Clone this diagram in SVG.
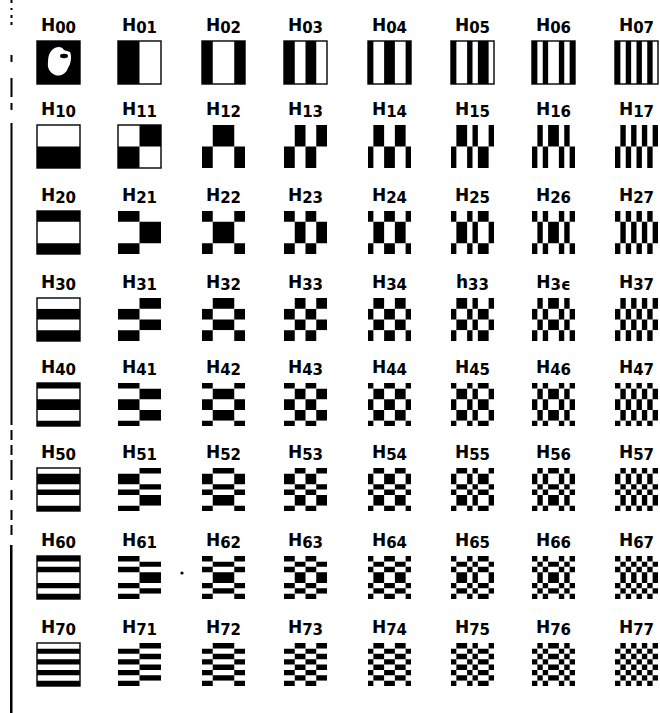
<svg xmlns="http://www.w3.org/2000/svg" xmlns:xlink="http://www.w3.org/1999/xlink" width="660" height="713" viewBox="0 0 660 713">
<style>
.lb{font-family:"DejaVu Sans","Liberation Sans",sans-serif;font-weight:bold;fill:#000;text-anchor:middle}
.h{font-size:17px}
.d{font-size:15px}
.bd{fill:none;stroke:#000;stroke-width:1.4}
.k{fill:#000}
</style>
<defs>
<g id="c0p" class="k"><rect x="0" y="0" width="8" height="8"/></g>
<g id="c1p" class="k"><rect x="0" y="0" width="4" height="8"/></g>
<g id="c1n" class="k"><rect x="4" y="0" width="4" height="8"/></g>
<g id="c2p" class="k"><rect x="0" y="0" width="2" height="8"/><rect x="6" y="0" width="2" height="8"/></g>
<g id="c2n" class="k"><rect x="2" y="0" width="4" height="8"/></g>
<g id="c3p" class="k"><rect x="0" y="0" width="2" height="8"/><rect x="4" y="0" width="2" height="8"/></g>
<g id="c3n" class="k"><rect x="2" y="0" width="2" height="8"/><rect x="6" y="0" width="2" height="8"/></g>
<g id="c4p" class="k"><rect x="0" y="0" width="1" height="8"/><rect x="3" y="0" width="2" height="8"/><rect x="7" y="0" width="1" height="8"/></g>
<g id="c4n" class="k"><rect x="1" y="0" width="2" height="8"/><rect x="5" y="0" width="2" height="8"/></g>
<g id="c5p" class="k"><rect x="0" y="0" width="1" height="8"/><rect x="3" y="0" width="1" height="8"/><rect x="5" y="0" width="2" height="8"/></g>
<g id="c5n" class="k"><rect x="1" y="0" width="2" height="8"/><rect x="4" y="0" width="1" height="8"/><rect x="7" y="0" width="1" height="8"/></g>
<g id="c6p" class="k"><rect x="0" y="0" width="1" height="8"/><rect x="2" y="0" width="1" height="8"/><rect x="5" y="0" width="1" height="8"/><rect x="7" y="0" width="1" height="8"/></g>
<g id="c6n" class="k"><rect x="1" y="0" width="1" height="8"/><rect x="3" y="0" width="2" height="8"/><rect x="6" y="0" width="1" height="8"/></g>
<g id="c7p" class="k"><rect x="0" y="0" width="1" height="8"/><rect x="2" y="0" width="1" height="8"/><rect x="4" y="0" width="1" height="8"/><rect x="6" y="0" width="1" height="8"/></g>
<g id="c7n" class="k"><rect x="1" y="0" width="1" height="8"/><rect x="3" y="0" width="1" height="8"/><rect x="5" y="0" width="1" height="8"/><rect x="7" y="0" width="1" height="8"/></g>
<clipPath id="r0p"><rect x="0" y="0" width="8" height="8"/></clipPath>
<clipPath id="r1p"><rect x="0" y="4" width="8" height="4"/></clipPath>
<clipPath id="r1n"><rect x="0" y="0" width="8" height="4"/></clipPath>
<clipPath id="r2p"><rect x="0" y="0" width="8" height="2"/><rect x="0" y="6" width="8" height="2"/></clipPath>
<clipPath id="r2n"><rect x="0" y="2" width="8" height="4"/></clipPath>
<clipPath id="r3p"><rect x="0" y="2" width="8" height="2"/><rect x="0" y="6" width="8" height="2"/></clipPath>
<clipPath id="r3n"><rect x="0" y="0" width="8" height="2"/><rect x="0" y="4" width="8" height="2"/></clipPath>
<clipPath id="r4p"><rect x="0" y="0" width="8" height="1"/><rect x="0" y="3" width="8" height="2"/><rect x="0" y="7" width="8" height="1"/></clipPath>
<clipPath id="r4n"><rect x="0" y="1" width="8" height="2"/><rect x="0" y="5" width="8" height="2"/></clipPath>
<clipPath id="r5p"><rect x="0" y="1" width="8" height="2"/><rect x="0" y="4" width="8" height="1"/><rect x="0" y="7" width="8" height="1"/></clipPath>
<clipPath id="r5n"><rect x="0" y="0" width="8" height="1"/><rect x="0" y="3" width="8" height="1"/><rect x="0" y="5" width="8" height="2"/></clipPath>
<clipPath id="r6p"><rect x="0" y="0" width="8" height="1"/><rect x="0" y="2" width="8" height="1"/><rect x="0" y="5" width="8" height="1"/><rect x="0" y="7" width="8" height="1"/></clipPath>
<clipPath id="r6n"><rect x="0" y="1" width="8" height="1"/><rect x="0" y="3" width="8" height="2"/><rect x="0" y="6" width="8" height="1"/></clipPath>
<clipPath id="r7p"><rect x="0" y="1" width="8" height="1"/><rect x="0" y="3" width="8" height="1"/><rect x="0" y="5" width="8" height="1"/><rect x="0" y="7" width="8" height="1"/></clipPath>
<clipPath id="r7n"><rect x="0" y="0" width="8" height="1"/><rect x="0" y="2" width="8" height="1"/><rect x="0" y="4" width="8" height="1"/><rect x="0" y="6" width="8" height="1"/></clipPath>
</defs>
<rect x="0" y="0" width="660" height="713" fill="#fff"/>
<g id="margin-line" fill="#000">
<rect x="10.5" y="0" width="2" height="3"/><rect x="10.5" y="8" width="2" height="2"/><rect x="10.5" y="15" width="2" height="3"/><rect x="10.5" y="22" width="2" height="3"/>
<rect x="10.5" y="55" width="2" height="7"/><rect x="10.5" y="78" width="2" height="19"/><rect x="10.5" y="103" width="2" height="7"/>
<rect x="10.5" y="123" width="2" height="302"/>
<rect x="10.5" y="430" width="2" height="10"/><rect x="10.5" y="445" width="2" height="10"/><rect x="10.5" y="460" width="2" height="20"/><rect x="10.5" y="490" width="2" height="10"/><rect x="10.5" y="510" width="2" height="10"/><rect x="10.5" y="525" width="2" height="10"/>
<rect x="10" y="545" width="2.5" height="168"/>
<circle cx="182" cy="573" r="1.6"/>
</g>
<!-- Row 0 -->
<g id="H00" transform="translate(37,41)"><text class="lb" x="21.5" y="-10"><tspan class="h">H</tspan><tspan class="d" dy="2">00</tspan></text><g transform="scale(5.375)"><use href="#c0p" clip-path="url(#r0p)"/></g><path d="M15 9 C19 5,25 5,27 9 L33 11 C35 15,34 23,31 27 C29 33,23 36,18 34 C13 32,10 27,11 21 C11 16,12 12,15 9 Z" fill="#fff"/><ellipse cx="27" cy="15" rx="4" ry="2.2" fill="#000"/><rect class="bd" x="0" y="0" width="43" height="43"/></g>
<g id="H01" transform="translate(118,41)"><text class="lb" x="21.5" y="-10"><tspan class="h">H</tspan><tspan class="d" dy="2">01</tspan></text><g transform="scale(5.375)"><use href="#c1p" clip-path="url(#r0p)"/></g><rect class="bd" x="0" y="0" width="43" height="43"/></g>
<g id="H02" transform="translate(202,41)"><text class="lb" x="21.5" y="-10"><tspan class="h">H</tspan><tspan class="d" dy="2">02</tspan></text><g transform="scale(5.375)"><use href="#c2p" clip-path="url(#r0p)"/></g><rect class="bd" x="0" y="0" width="43" height="43"/></g>
<g id="H03" transform="translate(284,41)"><text class="lb" x="21.5" y="-10"><tspan class="h">H</tspan><tspan class="d" dy="2">03</tspan></text><g transform="scale(5.375)"><use href="#c3p" clip-path="url(#r0p)"/></g><rect class="bd" x="0" y="0" width="43" height="43"/></g>
<g id="H04" transform="translate(368,41)"><text class="lb" x="21.5" y="-10"><tspan class="h">H</tspan><tspan class="d" dy="2">04</tspan></text><g transform="scale(5.375)"><use href="#c4p" clip-path="url(#r0p)"/></g><rect class="bd" x="0" y="0" width="43" height="43"/></g>
<g id="H05" transform="translate(451,41)"><text class="lb" x="21.5" y="-10"><tspan class="h">H</tspan><tspan class="d" dy="2">05</tspan></text><g transform="scale(5.375)"><use href="#c5p" clip-path="url(#r0p)"/></g><rect class="bd" x="0" y="0" width="43" height="43"/></g>
<g id="H06" transform="translate(532,41)"><text class="lb" x="21.5" y="-10"><tspan class="h">H</tspan><tspan class="d" dy="2">06</tspan></text><g transform="scale(5.375)"><use href="#c6p" clip-path="url(#r0p)"/></g><rect class="bd" x="0" y="0" width="43" height="43"/></g>
<g id="H07" transform="translate(615,41)"><text class="lb" x="21.5" y="-10"><tspan class="h">H</tspan><tspan class="d" dy="2">07</tspan></text><g transform="scale(5.375)"><use href="#c7p" clip-path="url(#r0p)"/></g><rect class="bd" x="0" y="0" width="43" height="43"/></g>
<!-- Row 1 -->
<g id="H10" transform="translate(37,125)"><text class="lb" x="21.5" y="-10"><tspan class="h">H</tspan><tspan class="d" dy="2">10</tspan></text><g transform="scale(5.375)"><use href="#c0p" clip-path="url(#r1p)"/></g><rect class="bd" x="0" y="0" width="43" height="43"/></g>
<g id="H11" transform="translate(118,125)"><text class="lb" x="21.5" y="-10"><tspan class="h">H</tspan><tspan class="d" dy="2">11</tspan></text><g transform="scale(5.375)"><use href="#c1p" clip-path="url(#r1p)"/><use href="#c1n" clip-path="url(#r1n)"/></g><rect class="bd" x="0" y="0" width="43" height="43"/></g>
<g id="H12" transform="translate(202,125)"><text class="lb" x="21.5" y="-10"><tspan class="h">H</tspan><tspan class="d" dy="2">12</tspan></text><g transform="scale(5.375)"><use href="#c2p" clip-path="url(#r1p)"/><use href="#c2n" clip-path="url(#r1n)"/></g></g>
<g id="H13" transform="translate(284,125)"><text class="lb" x="21.5" y="-10"><tspan class="h">H</tspan><tspan class="d" dy="2">13</tspan></text><g transform="scale(5.375)"><use href="#c3p" clip-path="url(#r1p)"/><use href="#c3n" clip-path="url(#r1n)"/></g></g>
<g id="H14" transform="translate(368,125)"><text class="lb" x="21.5" y="-10"><tspan class="h">H</tspan><tspan class="d" dy="2">14</tspan></text><g transform="scale(5.375)"><use href="#c4p" clip-path="url(#r1p)"/><use href="#c4n" clip-path="url(#r1n)"/></g></g>
<g id="H15" transform="translate(451,125)"><text class="lb" x="21.5" y="-10"><tspan class="h">H</tspan><tspan class="d" dy="2">15</tspan></text><g transform="scale(5.375)"><use href="#c5p" clip-path="url(#r1p)"/><use href="#c5n" clip-path="url(#r1n)"/></g></g>
<g id="H16" transform="translate(532,125)"><text class="lb" x="21.5" y="-10"><tspan class="h">H</tspan><tspan class="d" dy="2">16</tspan></text><g transform="scale(5.375)"><use href="#c6p" clip-path="url(#r1p)"/><use href="#c6n" clip-path="url(#r1n)"/></g></g>
<g id="H17" transform="translate(615,125)"><text class="lb" x="21.5" y="-10"><tspan class="h">H</tspan><tspan class="d" dy="2">17</tspan></text><g transform="scale(5.375)"><use href="#c7p" clip-path="url(#r1p)"/><use href="#c7n" clip-path="url(#r1n)"/></g></g>
<!-- Row 2 -->
<g id="H20" transform="translate(37,211)"><text class="lb" x="21.5" y="-10"><tspan class="h">H</tspan><tspan class="d" dy="2">20</tspan></text><g transform="scale(5.375)"><use href="#c0p" clip-path="url(#r2p)"/></g><rect class="bd" x="0" y="0" width="43" height="43"/></g>
<g id="H21" transform="translate(118,211)"><text class="lb" x="21.5" y="-10"><tspan class="h">H</tspan><tspan class="d" dy="2">21</tspan></text><g transform="scale(5.375)"><use href="#c1p" clip-path="url(#r2p)"/><use href="#c1n" clip-path="url(#r2n)"/></g></g>
<g id="H22" transform="translate(202,211)"><text class="lb" x="21.5" y="-10"><tspan class="h">H</tspan><tspan class="d" dy="2">22</tspan></text><g transform="scale(5.375)"><use href="#c2p" clip-path="url(#r2p)"/><use href="#c2n" clip-path="url(#r2n)"/></g></g>
<g id="H23" transform="translate(284,211)"><text class="lb" x="21.5" y="-10"><tspan class="h">H</tspan><tspan class="d" dy="2">23</tspan></text><g transform="scale(5.375)"><use href="#c3p" clip-path="url(#r2p)"/><use href="#c3n" clip-path="url(#r2n)"/></g></g>
<g id="H24" transform="translate(368,211)"><text class="lb" x="21.5" y="-10"><tspan class="h">H</tspan><tspan class="d" dy="2">24</tspan></text><g transform="scale(5.375)"><use href="#c4p" clip-path="url(#r2p)"/><use href="#c4n" clip-path="url(#r2n)"/></g></g>
<g id="H25" transform="translate(451,211)"><text class="lb" x="21.5" y="-10"><tspan class="h">H</tspan><tspan class="d" dy="2">25</tspan></text><g transform="scale(5.375)"><use href="#c5p" clip-path="url(#r2p)"/><use href="#c5n" clip-path="url(#r2n)"/></g></g>
<g id="H26" transform="translate(532,211)"><text class="lb" x="21.5" y="-10"><tspan class="h">H</tspan><tspan class="d" dy="2">26</tspan></text><g transform="scale(5.375)"><use href="#c6p" clip-path="url(#r2p)"/><use href="#c6n" clip-path="url(#r2n)"/></g></g>
<g id="H27" transform="translate(615,211)"><text class="lb" x="21.5" y="-10"><tspan class="h">H</tspan><tspan class="d" dy="2">27</tspan></text><g transform="scale(5.375)"><use href="#c7p" clip-path="url(#r2p)"/><use href="#c7n" clip-path="url(#r2n)"/></g></g>
<!-- Row 3 -->
<g id="H30" transform="translate(37,298)"><text class="lb" x="21.5" y="-10"><tspan class="h">H</tspan><tspan class="d" dy="2">30</tspan></text><g transform="scale(5.375)"><use href="#c0p" clip-path="url(#r3p)"/></g><rect class="bd" x="0" y="0" width="43" height="43"/></g>
<g id="H31" transform="translate(118,298)"><text class="lb" x="21.5" y="-10"><tspan class="h">H</tspan><tspan class="d" dy="2">31</tspan></text><g transform="scale(5.375)"><use href="#c1p" clip-path="url(#r3p)"/><use href="#c1n" clip-path="url(#r3n)"/></g></g>
<g id="H32" transform="translate(202,298)"><text class="lb" x="21.5" y="-10"><tspan class="h">H</tspan><tspan class="d" dy="2">32</tspan></text><g transform="scale(5.375)"><use href="#c2p" clip-path="url(#r3p)"/><use href="#c2n" clip-path="url(#r3n)"/></g></g>
<g id="H33" transform="translate(284,298)"><text class="lb" x="21.5" y="-10"><tspan class="h">H</tspan><tspan class="d" dy="2">33</tspan></text><g transform="scale(5.375)"><use href="#c3p" clip-path="url(#r3p)"/><use href="#c3n" clip-path="url(#r3n)"/></g></g>
<g id="H34" transform="translate(368,298)"><text class="lb" x="21.5" y="-10"><tspan class="h">H</tspan><tspan class="d" dy="2">34</tspan></text><g transform="scale(5.375)"><use href="#c4p" clip-path="url(#r3p)"/><use href="#c4n" clip-path="url(#r3n)"/></g></g>
<g id="H35" transform="translate(451,298)"><text class="lb" x="21.5" y="-10"><tspan class="h">h</tspan><tspan class="d" dy="2">33</tspan></text><g transform="scale(5.375)"><use href="#c5p" clip-path="url(#r3p)"/><use href="#c5n" clip-path="url(#r3n)"/></g></g>
<g id="H36" transform="translate(532,298)"><text class="lb" x="21.5" y="-10"><tspan class="h">H</tspan><tspan class="d" dy="2">3ϵ</tspan></text><g transform="scale(5.375)"><use href="#c6p" clip-path="url(#r3p)"/><use href="#c6n" clip-path="url(#r3n)"/></g></g>
<g id="H37" transform="translate(615,298)"><text class="lb" x="21.5" y="-10"><tspan class="h">H</tspan><tspan class="d" dy="2">37</tspan></text><g transform="scale(5.375)"><use href="#c7p" clip-path="url(#r3p)"/><use href="#c7n" clip-path="url(#r3n)"/></g></g>
<!-- Row 4 -->
<g id="H40" transform="translate(37,383)"><text class="lb" x="21.5" y="-10"><tspan class="h">H</tspan><tspan class="d" dy="2">40</tspan></text><g transform="scale(5.375)"><use href="#c0p" clip-path="url(#r4p)"/></g><rect class="bd" x="0" y="0" width="43" height="43"/></g>
<g id="H41" transform="translate(118,383)"><text class="lb" x="21.5" y="-10"><tspan class="h">H</tspan><tspan class="d" dy="2">41</tspan></text><g transform="scale(5.375)"><use href="#c1p" clip-path="url(#r4p)"/><use href="#c1n" clip-path="url(#r4n)"/></g></g>
<g id="H42" transform="translate(202,383)"><text class="lb" x="21.5" y="-10"><tspan class="h">H</tspan><tspan class="d" dy="2">42</tspan></text><g transform="scale(5.375)"><use href="#c2p" clip-path="url(#r4p)"/><use href="#c2n" clip-path="url(#r4n)"/></g></g>
<g id="H43" transform="translate(284,383)"><text class="lb" x="21.5" y="-10"><tspan class="h">H</tspan><tspan class="d" dy="2">43</tspan></text><g transform="scale(5.375)"><use href="#c3p" clip-path="url(#r4p)"/><use href="#c3n" clip-path="url(#r4n)"/></g></g>
<g id="H44" transform="translate(368,383)"><text class="lb" x="21.5" y="-10"><tspan class="h">H</tspan><tspan class="d" dy="2">44</tspan></text><g transform="scale(5.375)"><use href="#c4p" clip-path="url(#r4p)"/><use href="#c4n" clip-path="url(#r4n)"/></g></g>
<g id="H45" transform="translate(451,383)"><text class="lb" x="21.5" y="-10"><tspan class="h">H</tspan><tspan class="d" dy="2">45</tspan></text><g transform="scale(5.375)"><use href="#c5p" clip-path="url(#r4p)"/><use href="#c5n" clip-path="url(#r4n)"/></g></g>
<g id="H46" transform="translate(532,383)"><text class="lb" x="21.5" y="-10"><tspan class="h">H</tspan><tspan class="d" dy="2">46</tspan></text><g transform="scale(5.375)"><use href="#c6p" clip-path="url(#r4p)"/><use href="#c6n" clip-path="url(#r4n)"/></g></g>
<g id="H47" transform="translate(615,383)"><text class="lb" x="21.5" y="-10"><tspan class="h">H</tspan><tspan class="d" dy="2">47</tspan></text><g transform="scale(5.375)"><use href="#c7p" clip-path="url(#r4p)"/><use href="#c7n" clip-path="url(#r4n)"/></g></g>
<!-- Row 5 -->
<g id="H50" transform="translate(37,468)"><text class="lb" x="21.5" y="-10"><tspan class="h">H</tspan><tspan class="d" dy="2">50</tspan></text><g transform="scale(5.375)"><use href="#c0p" clip-path="url(#r5p)"/></g><rect class="bd" x="0" y="0" width="43" height="43"/></g>
<g id="H51" transform="translate(118,468)"><text class="lb" x="21.5" y="-10"><tspan class="h">H</tspan><tspan class="d" dy="2">51</tspan></text><g transform="scale(5.375)"><use href="#c1p" clip-path="url(#r5p)"/><use href="#c1n" clip-path="url(#r5n)"/></g></g>
<g id="H52" transform="translate(202,468)"><text class="lb" x="21.5" y="-10"><tspan class="h">H</tspan><tspan class="d" dy="2">52</tspan></text><g transform="scale(5.375)"><use href="#c2p" clip-path="url(#r5p)"/><use href="#c2n" clip-path="url(#r5n)"/></g></g>
<g id="H53" transform="translate(284,468)"><text class="lb" x="21.5" y="-10"><tspan class="h">H</tspan><tspan class="d" dy="2">53</tspan></text><g transform="scale(5.375)"><use href="#c3p" clip-path="url(#r5p)"/><use href="#c3n" clip-path="url(#r5n)"/></g></g>
<g id="H54" transform="translate(368,468)"><text class="lb" x="21.5" y="-10"><tspan class="h">H</tspan><tspan class="d" dy="2">54</tspan></text><g transform="scale(5.375)"><use href="#c4p" clip-path="url(#r5p)"/><use href="#c4n" clip-path="url(#r5n)"/></g></g>
<g id="H55" transform="translate(451,468)"><text class="lb" x="21.5" y="-10"><tspan class="h">H</tspan><tspan class="d" dy="2">55</tspan></text><g transform="scale(5.375)"><use href="#c5p" clip-path="url(#r5p)"/><use href="#c5n" clip-path="url(#r5n)"/></g></g>
<g id="H56" transform="translate(532,468)"><text class="lb" x="21.5" y="-10"><tspan class="h">H</tspan><tspan class="d" dy="2">56</tspan></text><g transform="scale(5.375)"><use href="#c6p" clip-path="url(#r5p)"/><use href="#c6n" clip-path="url(#r5n)"/></g></g>
<g id="H57" transform="translate(615,468)"><text class="lb" x="21.5" y="-10"><tspan class="h">H</tspan><tspan class="d" dy="2">57</tspan></text><g transform="scale(5.375)"><use href="#c7p" clip-path="url(#r5p)"/><use href="#c7n" clip-path="url(#r5n)"/></g></g>
<!-- Row 6 -->
<g id="H60" transform="translate(37,556)"><text class="lb" x="21.5" y="-10"><tspan class="h">H</tspan><tspan class="d" dy="2">60</tspan></text><g transform="scale(5.375)"><use href="#c0p" clip-path="url(#r6p)"/></g><rect class="bd" x="0" y="0" width="43" height="43"/></g>
<g id="H61" transform="translate(118,556)"><text class="lb" x="21.5" y="-10"><tspan class="h">H</tspan><tspan class="d" dy="2">61</tspan></text><g transform="scale(5.375)"><use href="#c1p" clip-path="url(#r6p)"/><use href="#c1n" clip-path="url(#r6n)"/></g></g>
<g id="H62" transform="translate(202,556)"><text class="lb" x="21.5" y="-10"><tspan class="h">H</tspan><tspan class="d" dy="2">62</tspan></text><g transform="scale(5.375)"><use href="#c2p" clip-path="url(#r6p)"/><use href="#c2n" clip-path="url(#r6n)"/></g></g>
<g id="H63" transform="translate(284,556)"><text class="lb" x="21.5" y="-10"><tspan class="h">H</tspan><tspan class="d" dy="2">63</tspan></text><g transform="scale(5.375)"><use href="#c3p" clip-path="url(#r6p)"/><use href="#c3n" clip-path="url(#r6n)"/></g></g>
<g id="H64" transform="translate(368,556)"><text class="lb" x="21.5" y="-10"><tspan class="h">H</tspan><tspan class="d" dy="2">64</tspan></text><g transform="scale(5.375)"><use href="#c4p" clip-path="url(#r6p)"/><use href="#c4n" clip-path="url(#r6n)"/></g></g>
<g id="H65" transform="translate(451,556)"><text class="lb" x="21.5" y="-10"><tspan class="h">H</tspan><tspan class="d" dy="2">65</tspan></text><g transform="scale(5.375)"><use href="#c5p" clip-path="url(#r6p)"/><use href="#c5n" clip-path="url(#r6n)"/></g></g>
<g id="H66" transform="translate(532,556)"><text class="lb" x="21.5" y="-10"><tspan class="h">H</tspan><tspan class="d" dy="2">66</tspan></text><g transform="scale(5.375)"><use href="#c6p" clip-path="url(#r6p)"/><use href="#c6n" clip-path="url(#r6n)"/></g></g>
<g id="H67" transform="translate(615,556)"><text class="lb" x="21.5" y="-10"><tspan class="h">H</tspan><tspan class="d" dy="2">67</tspan></text><g transform="scale(5.375)"><use href="#c7p" clip-path="url(#r6p)"/><use href="#c7n" clip-path="url(#r6n)"/></g></g>
<!-- Row 7 -->
<g id="H70" transform="translate(37,643)"><text class="lb" x="21.5" y="-10"><tspan class="h">H</tspan><tspan class="d" dy="2">70</tspan></text><g transform="scale(5.375)"><use href="#c0p" clip-path="url(#r7p)"/></g><rect class="bd" x="0" y="0" width="43" height="43"/></g>
<g id="H71" transform="translate(118,643)"><text class="lb" x="21.5" y="-10"><tspan class="h">H</tspan><tspan class="d" dy="2">71</tspan></text><g transform="scale(5.375)"><use href="#c1p" clip-path="url(#r7p)"/><use href="#c1n" clip-path="url(#r7n)"/></g></g>
<g id="H72" transform="translate(202,643)"><text class="lb" x="21.5" y="-10"><tspan class="h">H</tspan><tspan class="d" dy="2">72</tspan></text><g transform="scale(5.375)"><use href="#c2p" clip-path="url(#r7p)"/><use href="#c2n" clip-path="url(#r7n)"/></g></g>
<g id="H73" transform="translate(284,643)"><text class="lb" x="21.5" y="-10"><tspan class="h">H</tspan><tspan class="d" dy="2">73</tspan></text><g transform="scale(5.375)"><use href="#c3p" clip-path="url(#r7p)"/><use href="#c3n" clip-path="url(#r7n)"/></g></g>
<g id="H74" transform="translate(368,643)"><text class="lb" x="21.5" y="-10"><tspan class="h">H</tspan><tspan class="d" dy="2">74</tspan></text><g transform="scale(5.375)"><use href="#c4p" clip-path="url(#r7p)"/><use href="#c4n" clip-path="url(#r7n)"/></g></g>
<g id="H75" transform="translate(451,643)"><text class="lb" x="21.5" y="-10"><tspan class="h">H</tspan><tspan class="d" dy="2">75</tspan></text><g transform="scale(5.375)"><use href="#c5p" clip-path="url(#r7p)"/><use href="#c5n" clip-path="url(#r7n)"/></g></g>
<g id="H76" transform="translate(532,643)"><text class="lb" x="21.5" y="-10"><tspan class="h">H</tspan><tspan class="d" dy="2">76</tspan></text><g transform="scale(5.375)"><use href="#c6p" clip-path="url(#r7p)"/><use href="#c6n" clip-path="url(#r7n)"/></g></g>
<g id="H77" transform="translate(615,643)"><text class="lb" x="21.5" y="-10"><tspan class="h">H</tspan><tspan class="d" dy="2">77</tspan></text><g transform="scale(5.375)"><use href="#c7p" clip-path="url(#r7p)"/><use href="#c7n" clip-path="url(#r7n)"/></g></g>
</svg>
